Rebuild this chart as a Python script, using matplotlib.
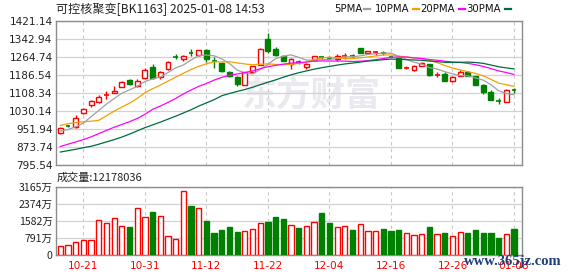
import numpy as np
import matplotlib
matplotlib.use('Agg')
import matplotlib.pyplot as plt
from matplotlib.lines import Line2D

tick_idx = [3, 11, 19, 27, 35, 43, 51, 59]
tick_labels = ['10-21', '10-31', '11-12', '11-22', '12-04', '12-16', '12-26', '01-08']

opens = [935, 966, 960, 1021, 1056, 1070, 1100, 1110, 1137, 1167,
         1141, 1174, 1222, 1177, 1215, 1267, 1259, 1284, 1274, 1297,
         1251, 1239, 1199, 1177, 1145, 1200, 1232, 1344, 1301, 1272,
         1235, 1246, 1222, 1251, 1265, 1262, 1257, 1267, 1270, 1304,
         1282, 1288, 1282, 1268, 1261, 1219, 1209, 1227, 1236, 1188,
         1193, 1161, 1184, 1200, 1181, 1142, 1114, 1074, 1068, 1123]
highs = [962, 970, 1015, 1043, 1080, 1101, 1116, 1138, 1160, 1169,
         1171, 1217, 1237, 1205, 1248, 1279, 1274, 1300, 1297, 1299,
         1265, 1244, 1205, 1183, 1201, 1228, 1305, 1372, 1310, 1275,
         1260, 1252, 1240, 1271, 1272, 1268, 1278, 1281, 1278, 1306,
         1292, 1292, 1292, 1272, 1262, 1226, 1230, 1244, 1237, 1199,
         1199, 1182, 1210, 1203, 1183, 1148, 1120, 1088, 1126, 1131]
lows = [929, 962, 957, 1018, 1047, 1064, 1085, 1108, 1133, 1145,
        1134, 1170, 1170, 1169, 1210, 1256, 1249, 1268, 1272, 1242,
        1220, 1200, 1177, 1141, 1143, 1198, 1230, 1283, 1270, 1248,
        1213, 1236, 1213, 1248, 1255, 1255, 1249, 1259, 1262, 1281,
        1278, 1273, 1276, 1264, 1216, 1213, 1205, 1225, 1185, 1178,
        1160, 1158, 1182, 1182, 1143, 1104, 1077, 1060, 1068, 1110]
closes = [955, 964, 999, 1040, 1072, 1090, 1103, 1118, 1157, 1147,
          1163, 1210, 1174, 1199, 1244, 1265, 1272, 1282, 1295, 1257,
          1249, 1203, 1184, 1150, 1199, 1225, 1300, 1294, 1275, 1250,
          1257, 1244, 1236, 1269, 1263, 1261, 1271, 1269, 1269, 1283,
          1292, 1289, 1281, 1267, 1218, 1221, 1228, 1240, 1189, 1190,
          1163, 1180, 1202, 1184, 1145, 1114, 1080, 1072, 1122, 1120]
volumes = [429, 475, 614, 706, 706, 1629, 1490, 1722, 1338, 1306,
           2168, 1753, 1998, 1815, 877, 752, 2966, 2274, 2168, 1583,
           1015, 1168, 1291, 1076, 1122, 1199, 1475, 1552, 1752, 1675,
           1398, 1273, 1350, 1536, 1966, 1490, 1305, 1350, 1182, 1444,
           1120, 1120, 1213, 1136, 1182, 1013, 920, 982, 1305, 966,
           1028, 890, 1075, 1028, 1182, 1028, 1028, 812, 982, 1217.8]
vol_up = [1, 1, 1, 1, 1, 1, 1, 1, 1, 0,
          1, 1, 0, 1, 1, 1, 1, 0, 1, 0,
          0, 0, 0, 0, 1, 1, 1, 0, 0, 0,
          1, 0, 1, 1, 0, 0, 1, 1, 0, 1,
          1, 1, 0, 0, 0, 1, 1, 1, 0, 1,
          0, 1, 1, 0, 0, 0, 0, 0, 1, 0]

ma5 = [943, 950, 962, 978, 1006.0, 1033.0, 1060.8, 1084.6, 1108.0, 1123.0,
       1137.6, 1159.0, 1170.2, 1178.6, 1198.0, 1218.4, 1230.8, 1252.4, 1271.6, 1274.2,
       1271.0, 1257.2, 1237.6, 1208.6, 1197.0, 1192.2, 1211.6, 1233.6, 1258.6, 1268.8,
       1275.2, 1264.0, 1252.4, 1251.2, 1253.8, 1254.6, 1260.0, 1266.6, 1266.6, 1270.6,
       1276.8, 1280.4, 1282.8, 1282.4, 1269.4, 1255.2, 1243.0, 1234.8, 1219.2, 1213.6,
       1202.0, 1192.4, 1184.8, 1183.8, 1174.8, 1165.0, 1145.0, 1119.0, 1106.6, 1101.6]
ma10 = [968, 975, 980, 984, 986, 990, 1010, 1030, 1048, 1064.5,
        1085.3, 1109.9, 1127.4, 1143.3, 1160.5, 1178.0, 1194.9, 1211.3, 1225.1, 1236.1,
        1244.7, 1244.0, 1245.0, 1240.1, 1235.6, 1231.6, 1234.4, 1235.6, 1233.6, 1232.9,
        1233.7, 1237.8, 1243.0, 1254.9, 1261.3, 1264.9, 1262.0, 1259.5, 1258.9, 1262.2,
        1265.7, 1270.2, 1274.7, 1274.5, 1270.0, 1266.0, 1261.7, 1258.8, 1250.8, 1241.5,
        1228.6, 1217.7, 1209.8, 1201.5, 1194.2, 1183.5, 1168.7, 1151.9, 1145.2, 1138.2]
ma20 = [876, 886, 896, 906, 918, 932, 946, 960, 972, 984,
        998, 1016, 1038, 1052, 1068, 1085, 1105, 1122, 1138, 1150.3,
        1165.0, 1177.0, 1186.2, 1191.7, 1198.0, 1204.8, 1214.7, 1223.5, 1229.3, 1234.5,
        1239.2, 1240.9, 1244.0, 1247.5, 1248.5, 1248.2, 1248.2, 1247.5, 1246.2, 1247.5,
        1249.7, 1254.0, 1258.8, 1264.7, 1265.7, 1265.5, 1261.8, 1259.2, 1254.8, 1251.8,
        1247.2, 1244.0, 1242.2, 1238.0, 1232.1, 1224.8, 1215.2, 1205.3, 1198.0, 1189.8]
ma30 = [852, 858, 864, 871, 877, 886, 896, 906, 917, 930,
        944, 958, 970, 982, 995, 1008, 1022, 1036, 1052, 1066,
        1080, 1097, 1107, 1116, 1124, 1134, 1145, 1156, 1166, 1177.8,
        1187.9, 1197.2, 1205.1, 1212.8, 1219.1, 1224.8, 1230.4, 1235.5, 1239.2, 1243.7,
        1248.0, 1250.7, 1254.2, 1256.5, 1255.6, 1254.2, 1252.7, 1251.3, 1247.8, 1245.5,
        1242.7, 1241.9, 1242.5, 1243.6, 1241.8, 1238.1, 1230.8, 1223.4, 1218.3, 1214.0]

W, H = 578, 276
fig = plt.figure(figsize=(W/100, H/100), dpi=100)
fig.patch.set_facecolor('white')


def fx(px):
    return px / W


def fy(py):
    return 1 - py / H


L, R = 56, 522
ax = fig.add_axes([fx(L), fy(165), fx(R)-fx(L), fy(21.3)-fy(165)])
axv = fig.add_axes([fx(L), fy(255.3), fx(R)-fx(L), fy(186.7)-fy(255.3)])

RED = '#ff0000'
GREEN = '#008000'
FRAME = '#8c8c8c'
GRID = '#d2d2d2'
n = len(closes)
xlim = (-0.56, 60.04)
CJK = ['Noto Sans CJK SC', 'DejaVu Sans']

# watermark
ax.text(0.548, 0.49, '东方财富', transform=ax.transAxes, ha='center', va='center',
        fontsize=25, fontweight='bold', color='#e9e9ef', zorder=0, family=CJK)

bw = 0.64
for i in range(n):
    o, h, l, c = opens[i], highs[i], lows[i], closes[i]
    up = c >= o
    col = RED if up else GREEN
    ax.vlines(i, l, h, color=col, lw=1.0, zorder=3)
    if abs(c - o) < 3.5:
        ax.hlines((o + c) / 2, i - bw/2, i + bw/2, color=col, lw=1.2, zorder=4)
    else:
        ax.bar(i, abs(c - o), bottom=min(o, c), width=bw,
               facecolor='white' if up else col, edgecolor=col, lw=1.0, zorder=4)

xs = np.arange(n)
ax.plot(xs, ma5, color='#a0a0a0', lw=0.9, zorder=5)
ax.plot(xs, ma10, color='#f5a000', lw=0.9, zorder=5)
ax.plot(xs, ma20, color='#ff00ff', lw=0.9, zorder=5)
ax.plot(xs, ma30, color='#006b3c', lw=0.9, zorder=5)

yt = [795.54 + 78.2*k for k in range(9)]
ax.set_ylim(795.54, 1421.14)
ax.set_xlim(*xlim)
ax.set_yticks(yt)
ax.set_yticklabels(['%.2f' % v for v in yt])
ax.set_xticks(tick_idx)
ax.set_xticklabels([])
ax.tick_params(axis='both', length=0, labelsize=7.6, colors='#222222', pad=2.5)
ax.grid(axis='y', color=GRID, lw=0.9, zorder=1)
for t in tick_idx:
    ax.axvline(t, color='#c8c8c8', lw=0.8, ls=(0, (3, 3)), zorder=1)
for s in ax.spines.values():
    s.set_color(FRAME)
    s.set_linewidth(1.0)

# volume
for i in range(n):
    if vol_up[i]:
        axv.bar(i, volumes[i], width=0.68, facecolor='white', edgecolor=RED, lw=1.0, zorder=3)
    else:
        axv.bar(i, volumes[i], width=0.68, facecolor=GREEN, edgecolor=GREEN, lw=1.0, zorder=3)
vmax = 3165
vt = [0, vmax/4, vmax/2, vmax*3/4, vmax]
axv.set_ylim(0, vmax)
axv.set_xlim(*xlim)
axv.set_yticks(vt)
axv.set_yticklabels(['0', '791万', '1582万', '2374万', '3165万'], family=CJK)
axv.set_xticks(tick_idx)
axv.set_xticklabels(tick_labels)
axv.tick_params(axis='both', length=0, labelsize=7.6, colors='#222222', pad=2.5)
axv.tick_params(axis='x', colors=RED, pad=4)
axv.grid(axis='y', color=GRID, lw=0.9, zorder=1)
for t in tick_idx:
    axv.axvline(t, color='#c8c8c8', lw=0.8, ls=(0, (3, 3)), zorder=1)
for s in axv.spines.values():
    s.set_color(FRAME)
    s.set_linewidth(1.0)

# title and labels
fig.text(fx(56), fy(9), '可控核聚变[BK1163] 2025-01-08 14:53', ha='left', va='center',
         fontsize=8.7, color='#222222', family=CJK)
fig.text(fx(57), fy(177.5), '成交量:12178036', ha='left', va='center',
         fontsize=8.0, color='#222222', family=CJK)

legend = [('5PMA', 362, 364.5, '#a0a0a0'), ('10PMA', 409.5, 413, '#f5a000'),
          ('20PMA', 455, 459, '#ff00ff'), ('30PMA', 501, 505, '#006b3c')]
for lab, ex, d0, colr in legend:
    fig.text(fx(ex), fy(9), lab, ha='right', va='center', fontsize=7.3, color='#111111')
    fig.add_artist(Line2D([fx(d0), fx(d0 + 5.5)], [fy(9), fy(9)], color=colr, lw=1.6))

fig.text(fx(513), fy(262), 'www.365jz.com', ha='center', va='center', fontsize=10.5,
         fontweight='bold', color='#1d3c78', family='Liberation Serif', zorder=10)

fig.savefig('out.png', dpi=100, facecolor='white')
